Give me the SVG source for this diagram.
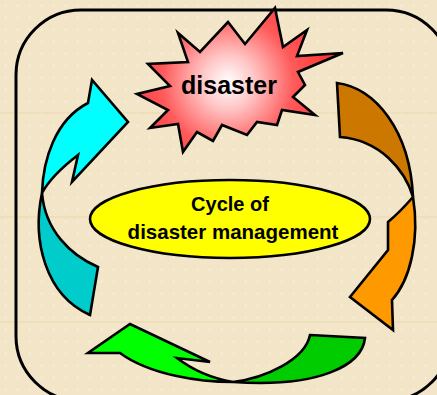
<svg xmlns="http://www.w3.org/2000/svg" width="437" height="395" viewBox="0 0 437 395">
<defs>
<pattern id="dots" width="12" height="12" patternUnits="userSpaceOnUse">
<rect x="5" y="5" width="1.2" height="1.2" fill="#ffffff" opacity="0.8"/>
</pattern>
<radialGradient id="burst" cx="228" cy="82" r="110" gradientUnits="userSpaceOnUse">
<stop offset="0" stop-color="#ffffff"/>
<stop offset="0.25" stop-color="#ffc4c4"/>
<stop offset="0.6" stop-color="#ff5a5a"/>
<stop offset="1" stop-color="#ff3030"/>
</radialGradient>
<style>
.sh{stroke:#000;stroke-width:2.6;stroke-linejoin:miter}
.t{font-family:"Liberation Sans",Arial,sans-serif;font-weight:bold;fill:#000;text-anchor:middle}
</style>
</defs>
<rect width="437" height="395" fill="#f3e6c8"/>
<rect width="437" height="395" fill="url(#dots)"/>
<g stroke="#ead4a8" stroke-width="1" opacity="0.8">
<line x1="0" y1="113" x2="437" y2="113"/>
<line x1="0" y1="217" x2="437" y2="217"/>
<line x1="0" y1="322" x2="437" y2="322"/>
</g>
<rect id="frame" x="16" y="10" width="435" height="391" rx="65" ry="65" fill="none" stroke="#000" stroke-width="3"/>
<g id="connectors">
<g id="arrow-brown-orange">
<path class="sh" fill="#cc7700" d="M337,83 C375,88 410,130 413,197 C405,170 380,140 340,137 Z"/>
<path class="sh" fill="#ff9900" d="M413,197 Q400,212 388,222 L388,250 L350,297 L393,330 L392,300 C410,280 420,240 413,197 Z"/>
</g>
<g id="arrow-green">
<path class="sh" fill="#00cc00" d="M310,335 L365,338 C362,365 320,388 233,382 C265,378 305,360 310,335 Z"/>
<path class="sh" fill="#00ff00" d="M233,382 C200,382 150,375 120,353 L88,353 L130,324 L210,362 L177,358 C190,368 210,378 233,382 Z"/>
</g>
<g id="arrow-cyan">
<path class="sh" fill="#00cccc" d="M90,315 L98,267 C70,255 45,230 42,193 C32,240 45,295 90,315 Z"/>
<path class="sh" fill="#00ffff" d="M42,193 C43,160 55,120 88,103 L92,80 L128,122 L72,182 L78,155 C65,165 50,178 42,193 Z"/>
</g>
</g>
<g id="disaster">
<polygon class="sh" fill="url(#burst)" points="275,8 283,47 307,30 297,56 343,53 298,72 305,85 293,97 315,115 282,110 277,125 257,122 247,135 222,125 213,141 197,132 183,152 178,124 150,128 168,110 137,94 170,86 148,64 188,62 178,33 200,52 228,22 245,44"/>
<text class="t" x="229" y="94" font-size="25">disaster</text>
</g>
<g id="cycle">
<ellipse class="sh" cx="230" cy="219" rx="140" ry="39" fill="#ffff00"/>
<text class="t" x="230" y="211" font-size="20">Cycle of</text>
<text class="t" x="233" y="239" font-size="20.5">disaster management</text>
</g>
</svg>
